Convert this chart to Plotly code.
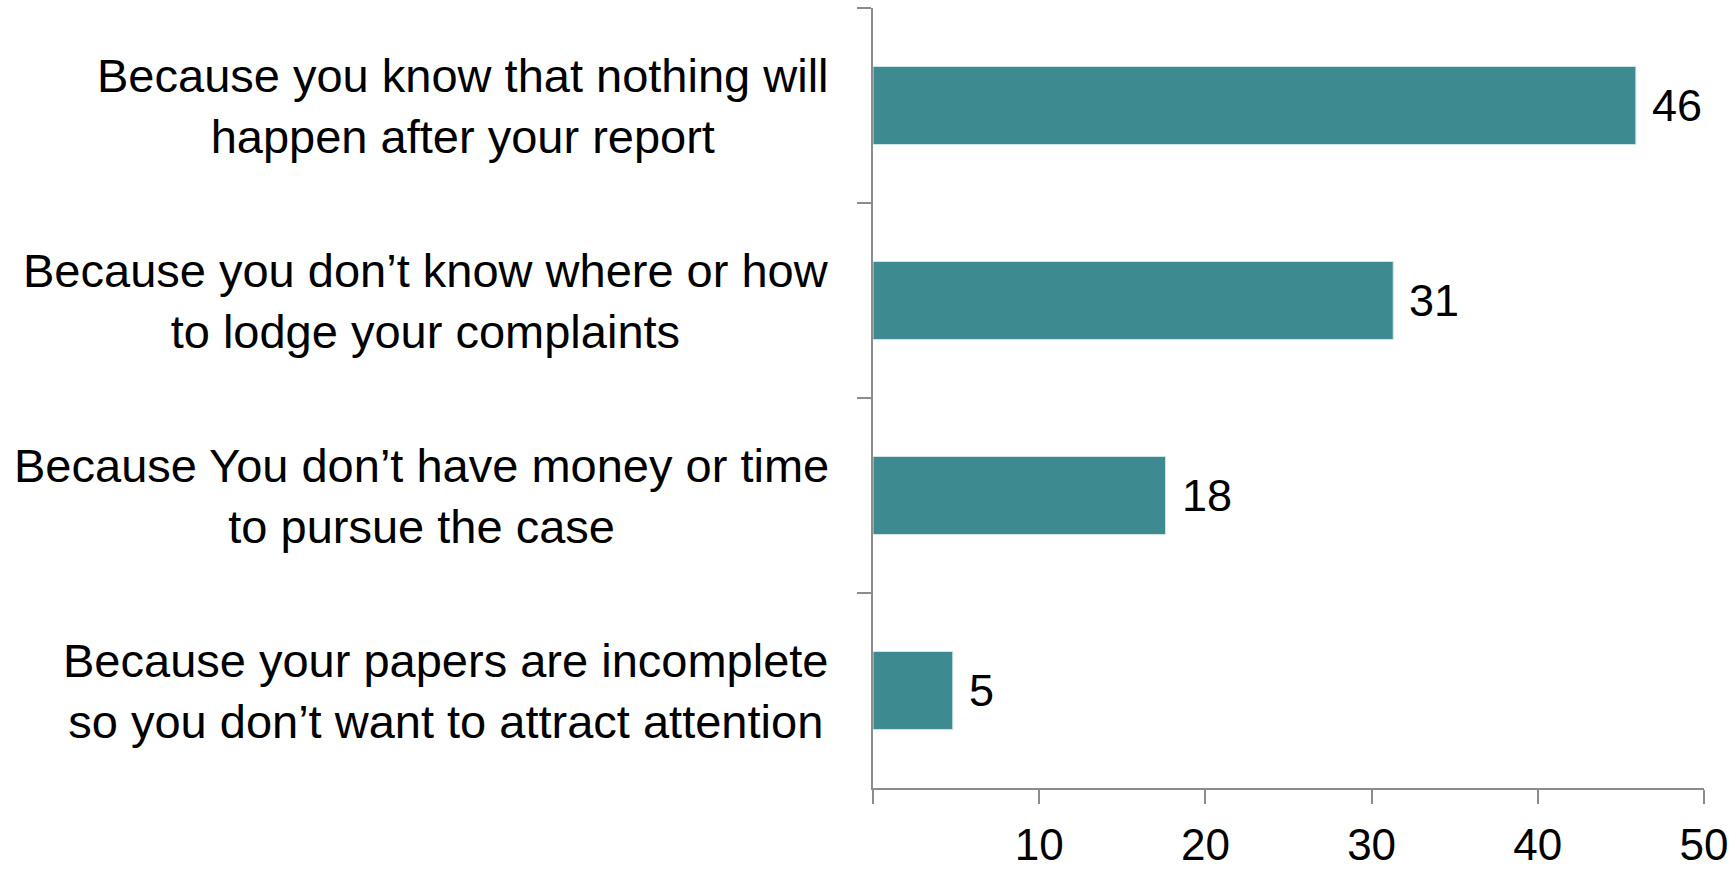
import plotly.graph_objects as go

categories = [
    "Because you know that nothing will<br>happen after your report",
    "Because you don\u2019t know where or how<br>to lodge your complaints",
    "Because You don\u2019t have money or time<br>to pursue the case",
    "Because your papers are incomplete<br>so you don\u2019t want to attract attention",
]
values = [45.9, 31.3, 17.6, 4.8]
value_labels = ["46", "31", "18", "5"]
x_tickvals = [0, 10, 20, 30, 40, 50]
x_ticktext = ["", "10", "20", "30", "40", "50"]

FONT = "Liberation Sans, Arial, sans-serif"
AXIS = "#8c8c8c"
BAR = "#3d8a90"

fig = go.Figure(
    go.Bar(
        x=values,
        y=categories,
        orientation="h",
        marker=dict(color=BAR, line=dict(color="#cfe6e6", width=1)),
        hoverinfo="skip",
    )
)

annotations = []
for cat, v, lab in zip(categories, values, value_labels):
    annotations.append(dict(
        x=v, y=cat, xref="x", yref="y", text=lab, showarrow=False,
        xanchor="left", yanchor="middle", xshift=14,
        font=dict(family=FONT, size=45, color="black"),
    ))
    annotations.append(dict(
        x=0, y=cat, xref="paper", yref="y", text=cat, showarrow=False,
        xanchor="right", yanchor="middle", xshift=-42, align="center",
        font=dict(family=FONT, size=47, color="black"),
    ))

fig.update_layout(
    width=1729, height=871,
    margin=dict(l=873, r=25, t=8, b=83),
    paper_bgcolor="white", plot_bgcolor="white",
    bargap=0.6,
    showlegend=False,
    annotations=annotations,
    xaxis=dict(
        range=[0, 50], tickvals=x_tickvals, ticktext=x_ticktext,
        showgrid=False, zeroline=False, automargin=False,
        showline=True, linecolor=AXIS, linewidth=2,
        ticks="outside", ticklen=14, tickwidth=2, tickcolor=AXIS,
        ticklabelstandoff=3, ticklabeloverflow="allow",
        tickfont=dict(family=FONT, size=44, color="black"),
    ),
    yaxis=dict(
        autorange=False, range=[3.5, -0.5],
        categoryorder="array", categoryarray=categories,
        showgrid=False, zeroline=False, automargin=False,
        showline=True, linecolor=AXIS, linewidth=2,
        ticks="outside", tickson="boundaries", ticklen=14, tickwidth=2, tickcolor=AXIS,
        showticklabels=False,
    ),
)

# remove the browser's default 8px page margin so the figure fills the window
fig.write_html(
    "out.html",
    config={"displayModeBar": False},
    post_script="document.body.style.margin='0';document.body.style.overflow='hidden';",
)
